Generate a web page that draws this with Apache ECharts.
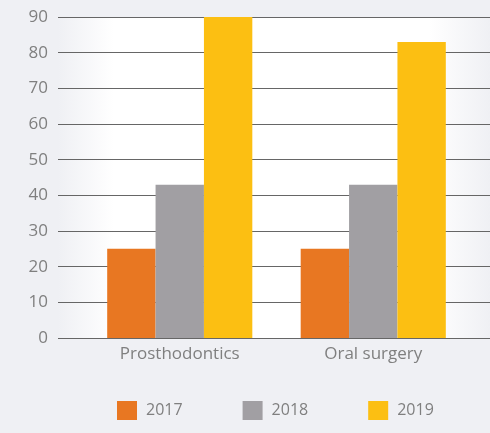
<!DOCTYPE html>
<html>
<head>
<meta charset="utf-8">
<script src="https://cdn.jsdelivr.net/npm/echarts@6/dist/echarts.min.js"></script>
<style>
html,body{margin:0;padding:0;background:#eff0f4;}
#chart{width:490px;height:433px;}
</style>
</head>
<body>
<div id="chart"></div>
<script>
var categories = ['Prosthodontics', 'Oral surgery'];
var seriesNames = ['2017', '2018', '2019'];
var values2017 = [25, 25];
var values2018 = [43, 43];
var values2019 = [90, 83];
var yTicks = [0, 10, 20, 30, 40, 50, 60, 70, 80, 90];
var colors = ['#e87722', '#a19fa3', '#fcbf12'];

var chart = echarts.init(document.getElementById('chart'), null, {renderer: 'canvas'});
var font = '"Open Sans", "Noto Sans", sans-serif';
var option = {
  backgroundColor: '#eff0f4',
  animation: false,
  color: colors,
  grid: [
    {
      left: 58, right: 0, top: 17, bottom: 95,
      show: true, borderWidth: 0,
      backgroundColor: new echarts.graphic.LinearGradient(0, 0, 1, 0, [
        {offset: 0, color: '#eff0f4'},
        {offset: 0.13, color: '#ffffff'},
        {offset: 0.86, color: '#ffffff'},
        {offset: 1, color: '#eff0f4'}
      ])
    },
    {left: 83, right: 20, top: 17, bottom: 95}
  ],
  xAxis: [
    {gridIndex: 0, type: 'value', min: 0, max: 1, show: false},
    {
      gridIndex: 1, type: 'category', data: categories,
      axisLine: {show: false}, axisTick: {show: false},
      axisLabel: {color: '#7f7f7f', fontSize: 17, fontFamily: font, margin: 8}
    }
  ],
  yAxis: [
    {
      gridIndex: 0, type: 'value', min: yTicks[0], max: yTicks[yTicks.length - 1], interval: 10,
      axisLine: {show: false}, axisTick: {show: false},
      axisLabel: {color: '#7f7f7f', fontSize: 17, fontFamily: font, margin: 10},
      splitLine: {show: true, lineStyle: {color: '#666666', width: 1}}
    },
    {gridIndex: 1, type: 'value', min: 0, max: 90, show: false, splitLine: {show: false}}
  ],
  legend: {
    left: 117, top: 401, padding: 0,
    itemWidth: 20, itemHeight: 19, itemGap: 60,
    icon: 'rect',
    data: seriesNames,
    textStyle: {color: '#7f7f7f', fontSize: 16, fontFamily: font, padding: [0, 0, 0, 4]}
  },
  series: [
    {name: seriesNames[0], type: 'bar', xAxisIndex: 1, yAxisIndex: 1, data: values2017, barGap: '0%', barCategoryGap: '25%'},
    {name: seriesNames[1], type: 'bar', xAxisIndex: 1, yAxisIndex: 1, data: values2018, barGap: '0%', barCategoryGap: '25%'},
    {name: seriesNames[2], type: 'bar', xAxisIndex: 1, yAxisIndex: 1, data: values2019, barGap: '0%', barCategoryGap: '25%'}
  ]
};
chart.setOption(option);
</script>
</body>
</html>
